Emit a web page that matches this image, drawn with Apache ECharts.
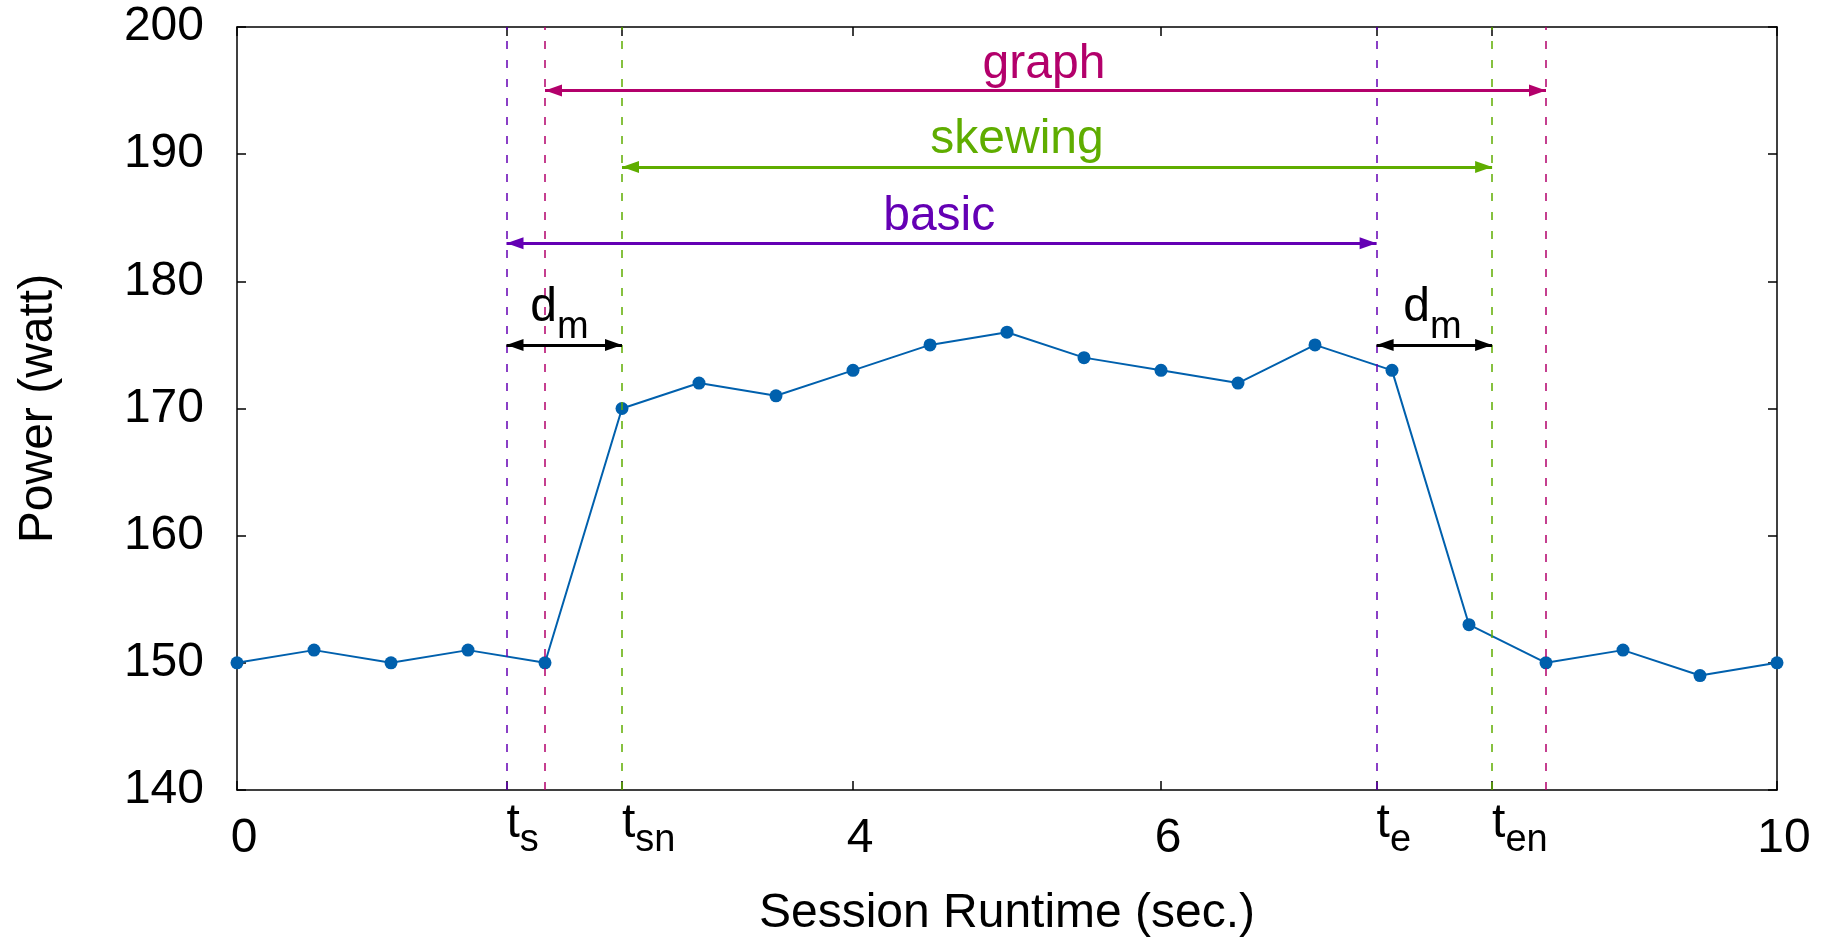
<!DOCTYPE html>
<html>
<head>
<meta charset="utf-8">
<script src="https://cdn.jsdelivr.net/npm/echarts@6/dist/echarts.min.js"></script>
<style>
html, body { margin: 0; padding: 0; background: #fff; }
#chart { width: 1827px; height: 943px; }
</style>
</head>
<body>
<div id="chart"></div>
<script>
// measured samples, one every 0.5 s
const runtime = [0, 0.5, 1, 1.5, 2, 2.5, 3, 3.5, 4, 4.5, 5, 5.5, 6, 6.5, 7, 7.5, 8, 8.5, 9, 9.5, 10];
const power = [150, 151, 150, 151, 150, 170, 172, 171, 173, 175, 176, 174, 173, 172, 175, 173, 153, 150, 151, 149, 150];

// x tick labels (main text + subscript)
const xTickValues = [0, 1.75, 2.5, 4, 6, 7.4, 8.15, 10];
const xTickMain = ['0', 't', 't', '4', '6', 't', 't', '10'];
const xTickSub = ['', 's', 'sn', '', '', 'e', 'en', ''];

// detection windows
const methods = ['graph', 'skewing', 'basic'];
const methodStart = [2.0, 2.5, 1.75];
const methodEnd = [8.5, 8.15, 7.4];
const methodLevel = [195, 189, 183];
const methodLabelX = [5.24, 5.065, 4.56];
const methodLabelY = [197, 191.1, 185.05];
const methodColors = ['#b3006b', '#5fad00', '#6400b4'];

// d_m spans
const dmStart = [1.75, 7.4];
const dmEnd = [2.5, 8.15];
const dmLevel = 175;
const dmLabelX = [2.094, 7.763];
const dmLabelY = 176.76;

const FONT = '"Liberation Sans", Arial, Helvetica, sans-serif';
const axisColor = '#000';

// width of subscripted tick labels, used to left-align them at the tick
const ctx = document.createElement('canvas').getContext('2d');
function textW(str, size) {
    ctx.font = size + 'px ' + FONT;
    return ctx.measureText(str).width;
}

let rich = {
    n: { fontSize: 48, height: 48, padding: [0, 0, 0, 14], color: '#000' },
    sub: { fontSize: 38, height: 38, verticalAlign: 'top', padding: [22, 0, 18, 0], color: '#000' }
};
xTickSub.forEach((s, i) => {
    if (s) {
        rich['t' + i] = {
            fontSize: 48, height: 48, verticalAlign: 'top', color: '#000',
            padding: [0, 0, 0, textW(xTickMain[i], 48) + textW(s, 38)]
        };
    }
});

let chart = echarts.init(document.getElementById('chart'));

let series = [];

// dashed guides
methods.forEach((m, i) => {
    series.push({
        name: m + '-guide',
        type: 'line',
        data: [],
        z: 1,
        color: methodColors[i],
        markLine: {
            silent: true,
            symbol: 'none',
            label: { show: false },
            lineStyle: { color: methodColors[i], width: 1.5, type: [8, 11] },
            data: [{ xAxis: methodStart[i] }, { xAxis: methodEnd[i] }]
        }
    });
});

// power curve
series.push({
    name: 'power',
    type: 'line',
    data: runtime.map((t, i) => [t, power[i]]),
    z: 3,
    symbol: 'circle',
    symbolSize: 13,
    lineStyle: { color: '#0060ad', width: 2 },
    itemStyle: { color: '#0060ad' }
});

// arrow ends
const head = { symbol: 'triangle', symbolSize: [12, 17], symbolOffset: [0, 8.5] };

methods.forEach((m, i) => {
    series.push({
        name: m + '-arrow',
        type: 'line',
        data: [],
        z: 4,
        color: methodColors[i],
        markLine: {
            silent: true,
            symbol: ['triangle', 'triangle'],
            label: { show: false },
            lineStyle: { color: methodColors[i], width: 3, type: 'solid' },
            data: [[
                Object.assign({ coord: [methodStart[i], methodLevel[i]] }, head),
                Object.assign({ coord: [methodEnd[i], methodLevel[i]] }, head)
            ]]
        }
    });
});

series.push({
    name: 'dm-arrow',
    type: 'line',
    data: [],
    z: 4,
    color: '#000',
    markLine: {
        silent: true,
        symbol: ['triangle', 'triangle'],
        label: { show: false },
        lineStyle: { color: '#000', width: 3, type: 'solid' },
        data: dmStart.map((s, i) => [
            Object.assign({ coord: [s, dmLevel] }, head),
            Object.assign({ coord: [dmEnd[i], dmLevel] }, head)
        ])
    }
});

// texts
series.push({
    name: 'method-label',
    type: 'scatter',
    z: 5,
    symbolSize: 0,
    itemStyle: { opacity: 1 },
    data: methods.map((m, i) => ({
        value: [methodLabelX[i], methodLabelY[i]],
        label: { color: methodColors[i] }
    })),
    label: {
        show: true,
        position: 'inside',
        fontSize: 48,
        fontFamily: FONT,
        opacity: 1,
        textBorderWidth: 0,
        formatter: p => methods[p.dataIndex]
    }
});

series.push({
    name: 'dm-label',
    type: 'scatter',
    z: 5,
    symbolSize: 0,
    itemStyle: { opacity: 1 },
    data: dmLabelX.map(x => [x, dmLabelY]),
    label: {
        show: true,
        position: 'inside',
        color: '#000',
        opacity: 1,
        textBorderWidth: 0,
        formatter: '{d|d}{m|m}',
        rich: {
            d: { fontSize: 48, height: 48, verticalAlign: 'top', color: '#000' },
            m: { fontSize: 38, height: 38, verticalAlign: 'top', padding: [25, 0, 15, 0], color: '#000' }
        }
    }
});

const lineSt = { color: axisColor, width: 1.5 };

const option = {
    animation: false,
    backgroundColor: '#fff',
    textStyle: { fontFamily: FONT },
    grid: { left: 237, right: 50, top: 27, bottom: 151 },
    xAxis: [{
        type: 'value',
        min: 0,
        max: 10,
        position: 'bottom',
        axisLine: { show: true, onZero: false, lineStyle: lineSt },
        axisTick: { show: true, inside: true, length: 9, customValues: xTickValues, lineStyle: lineSt },
        axisLabel: {
            customValues: xTickValues,
            verticalAlign: 'middle',
            margin: 49,
            fontSize: 48,
            color: '#000',
            formatter: (value) => {
                const i = xTickValues.findIndex(v => Math.abs(v - value) < 1e-6);
                if (i < 0) return '';
                if (!xTickSub[i]) return '{n|' + xTickMain[i] + '}';
                return '{t' + i + '|' + xTickMain[i] + '}{sub|' + xTickSub[i] + '}';
            },
            rich: rich
        },
        splitLine: { show: false },
        name: 'Session Runtime (sec.)',
        nameLocation: 'middle',
        nameGap: 100,
        nameTextStyle: { fontSize: 48, color: '#000' }
    }, {
        type: 'value',
        min: 0,
        max: 10,
        position: 'top',
        axisLine: { show: true, onZero: false, lineStyle: lineSt },
        axisTick: { show: true, inside: true, length: 9, customValues: xTickValues, lineStyle: lineSt },
        axisLabel: { show: false },
        splitLine: { show: false }
    }],
    yAxis: [{
        type: 'value',
        min: 140,
        max: 200,
        interval: 10,
        position: 'left',
        axisLine: { show: true, onZero: false, lineStyle: lineSt },
        axisTick: { show: true, inside: true, length: 9, lineStyle: lineSt },
        axisLabel: { margin: 33, fontSize: 48, color: '#000' },
        splitLine: { show: false },
        name: 'Power (watt)',
        nameLocation: 'middle',
        nameGap: 174,
        nameTextStyle: { fontSize: 48, color: '#000' }
    }, {
        type: 'value',
        min: 140,
        max: 200,
        interval: 10,
        position: 'right',
        axisLine: { show: true, onZero: false, lineStyle: lineSt },
        axisTick: { show: true, inside: true, length: 9, lineStyle: lineSt },
        axisLabel: { show: false },
        splitLine: { show: false }
    }],
    series: series
};

chart.setOption(option);
</script>
</body>
</html>
